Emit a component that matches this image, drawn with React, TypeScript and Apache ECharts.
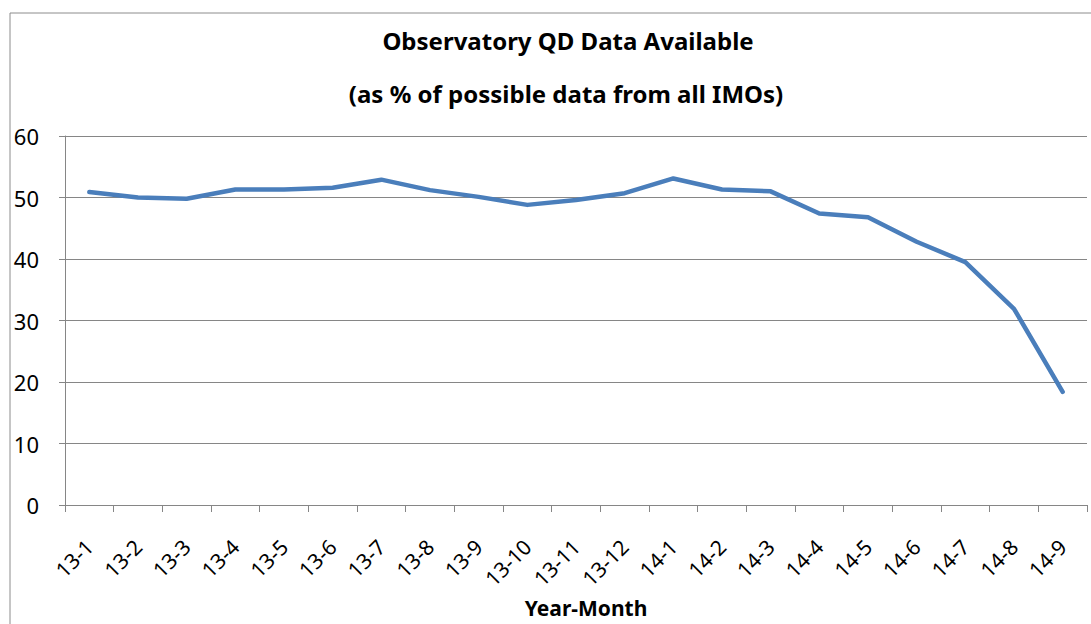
import React, { useEffect, useRef } from "react";
import * as echarts from "echarts";

const categories = [
  "13-1", "13-2", "13-3", "13-4", "13-5", "13-6", "13-7", "13-8", "13-9", "13-10", "13-11", "13-12",
  "14-1", "14-2", "14-3", "14-4", "14-5", "14-6", "14-7", "14-8", "14-9",
];
const availability = [
  50.9, 50.0, 49.8, 51.3, 51.3, 51.6, 52.9, 51.2, 50.1, 48.8, 49.6, 50.7,
  53.1, 51.3, 51.0, 47.4, 46.8, 42.8, 39.5, 31.9, 18.4,
];
const titleLine1 = "Observatory QD Data Available";
const titleLine2 = "(as % of possible data from all IMOs)";
const xAxisTitle = "Year-Month";

const FONT = "'Noto Sans', 'Open Sans', sans-serif";

export default function App() {
  const ref = useRef<HTMLDivElement>(null);
  useEffect(() => {
    if (!ref.current) return;
    const chart = echarts.init(ref.current, null, { renderer: "svg" });
    chart.setOption({
      animation: false,
      backgroundColor: "#ffffff",
      textStyle: { fontFamily: FONT },
      grid: { left: 65, right: 4, top: 136, bottom: 119, containLabel: false },
      graphic: [
        {
          type: "rect",
          shape: { x: 10, y: 13, width: 1200, height: 800 },
          style: { fill: "none", stroke: "#8c8c8c", lineWidth: 1 },
          silent: true,
        },
        {
          type: "text",
          x: 568,
          y: 40,
          style: {
            text: titleLine1,
            fontFamily: FONT,
            fontWeight: "bold",
            fontSize: 24,
            fill: "#000",
            textAlign: "center",
            textVerticalAlign: "middle",
          },
        },
        {
          type: "text",
          x: 566,
          y: 93,
          style: {
            text: titleLine2,
            fontFamily: FONT,
            fontWeight: "bold",
            fontSize: 24,
            fill: "#000",
            textAlign: "center",
            textVerticalAlign: "middle",
          },
        },
        {
          type: "text",
          x: 586,
          y: 608,
          style: {
            text: xAxisTitle,
            fontFamily: FONT,
            fontWeight: "bold",
            fontSize: 21,
            fill: "#000",
            textAlign: "center",
            textVerticalAlign: "middle",
          },
        },
      ],
      xAxis: {
        type: "category",
        data: categories,
        boundaryGap: true,
        axisLine: { show: true, lineStyle: { color: "#868686", width: 1 } },
        axisTick: { show: true, alignWithLabel: false, length: 7, lineStyle: { color: "#868686" } },
        axisLabel: {
          rotate: 45,
          interval: 0,
          color: "#000",
          fontSize: 21,
          fontFamily: FONT,
          margin: 38,
        },
        splitLine: { show: false },
      },
      yAxis: {
        type: "value",
        min: 0,
        max: 60,
        interval: 10,
        axisLine: { show: true, lineStyle: { color: "#868686", width: 1 } },
        axisTick: { show: true, length: 6, inside: false, lineStyle: { color: "#868686" } },
        axisLabel: { color: "#000", fontSize: 22, fontFamily: FONT, margin: 26 },
        splitLine: { show: true, lineStyle: { color: "#868686", width: 1 } },
      },
      series: [
        {
          type: "line",
          data: availability,
          showSymbol: false,
          symbol: "none",
          lineStyle: { color: "#4a7ebb", width: 4.5, cap: "round", join: "round" },
          itemStyle: { color: "#4a7ebb" },
        },
      ],
    });
    return () => chart.dispose();
  }, []);
  return (
    <div
      ref={ref}
      style={{ position: "fixed", left: 0, top: 0, width: 1091, height: 624 }}
    />
  );
}
